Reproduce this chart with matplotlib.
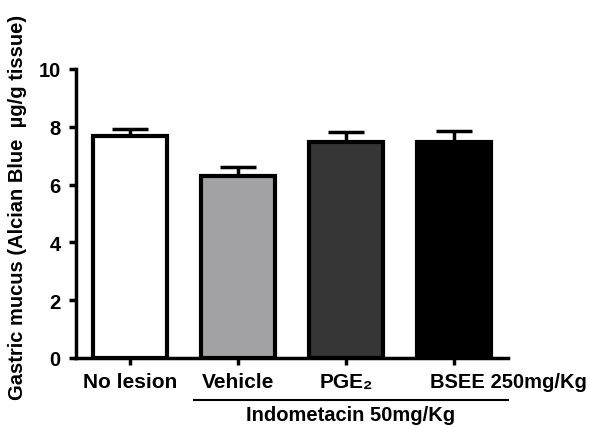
import matplotlib
matplotlib.use("Agg")
import matplotlib.pyplot as plt
import matplotlib.transforms as mtransforms

groups = ["No lesion", "Vehicle", "PGE\u2082", "BSEE 250mg/Kg"]
means = [7.68, 6.30, 7.49, 7.49]
sems = [0.24, 0.30, 0.33, 0.38]
colors = ["#ffffff", "#a3a3a6", "#363636", "#000000"]

plt.rcParams['font.family'] = ['Liberation Sans', 'DejaVu Sans']
plt.rcParams['font.weight'] = 'bold'

fig = plt.figure(figsize=(5.9, 4.27), dpi=100)
ax = fig.add_axes([76/590, 1-359/427, 432/590, 289/427])

x = range(len(groups))
ax.bar(x, means, width=0.68, color=colors, edgecolor="black", linewidth=3, zorder=2)
ax.errorbar(x, means, yerr=[[0]*4, sems], fmt="none", ecolor="black",
            elinewidth=2.5, capsize=13, capthick=2.5, zorder=1)

ax.set_xlim(-0.5, 3.5)
ax.set_ylim(0, 10)
ax.set_yticks([0, 2, 4, 6, 8, 10])
ax.set_xticks(list(x))
ax.set_xticklabels(groups[:3] + [""])
ax.tick_params(axis="both", width=2.5, length=5)
ax.tick_params(axis="x", pad=5, labelsize=15)
ax.tick_params(axis="y", pad=6, labelsize=14.5)
for s in ["top", "right"]:
    ax.spines[s].set_visible(False)
for s in ["left", "bottom"]:
    ax.spines[s].set_linewidth(2.5)
for lab in ax.get_xticklabels() + ax.get_yticklabels():
    lab.set_fontweight("bold")

trans = mtransforms.blended_transform_factory(ax.transData, ax.transAxes)
# last group label sits off-centre, starting a little left of the bar centre
ax.text(2.78, -0.048, groups[3], transform=trans, ha="left", va="top",
        fontsize=14.5, fontweight="bold")
ax.plot([0.59, 3.5], [-0.147, -0.147], color="black", lw=1.5,
        transform=trans, clip_on=False)
ax.text(2.04, -0.197, "Indometacin 50mg/Kg", transform=trans, ha="center",
        va="center", fontsize=14.5, fontweight="bold")

fig.text(18/590, 1-207/427, "Gastric mucus (Alcian Blue  \u00b5g/g tissue)",
         rotation=90, ha="center", va="center", fontsize=14.5, fontweight="bold")

fig.savefig("out.png", dpi=100)
